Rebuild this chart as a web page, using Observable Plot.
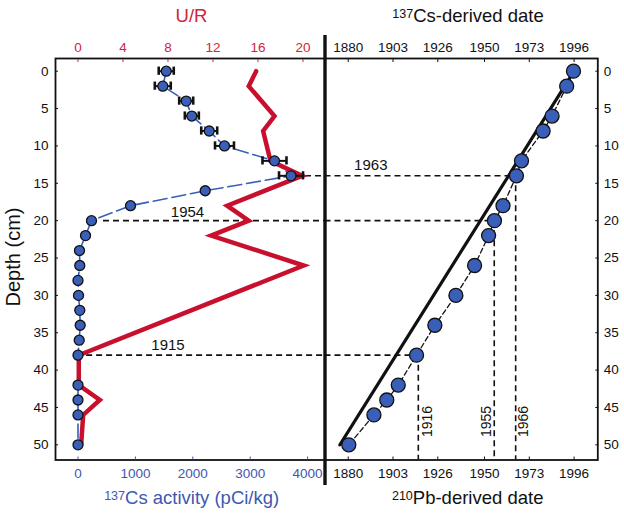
<!DOCTYPE html>
<html><head><meta charset="utf-8">
<script src="https://cdn.jsdelivr.net/npm/d3@7"></script>
<script src="https://cdn.jsdelivr.net/npm/@observablehq/plot@0.6"></script>
<style>
body{margin:0;background:#fff;font-family:"Liberation Sans",Arial,sans-serif;}
#chart{position:relative;width:624px;height:513px;overflow:hidden;background:#fff;}
#chart svg{position:absolute;left:0;top:0;overflow:visible;}
.lbl{position:absolute;white-space:nowrap;font-size:18.5px;line-height:1;transform:translate(-50%,-50%);}
.lbl sup{font-size:12.5px;position:relative;top:-0.3em;vertical-align:baseline;}
</style></head>
<body>
<div id="chart"></div>
<script>
// ---------- data ----------
const depthTicks = [0,5,10,15,20,25,30,35,40,45,50];
const csTicks = [0,1000,2000,3000,4000];
const urTicks = [0,4,8,12,16,20];
const dateTicks = [1880,1903,1926,1950,1973,1996];

// 137Cs activity profile (pCi/kg)
const csDepth    = [0,2,4,6,8,10,12,14,16,18,20,22,24,26,28,30,32,34,36,38,42,44,46,50];
const csActivity = [1537,1477,1885,1983,2286,2552,3423,3711,2216,915,235,131,26,31,0,9,31,38,21,0,0,0,0,0];
const csError    = [131,139,122,122,139,165,209,209,0,0,0,0,0,0,0,0,0,0,0,0,0,0,0,0];

// U/R ratio profile
const urDepth = [0,2,6,8,12,14,18,20,22,26,38,42,44,46,50];
const urRatio = [15.84,15.18,17.47,16.46,17.11,19.93,13.26,15.18,11.84,20.07,0.07,0.07,1.94,0.46,0.28];

// 210Pb-derived dates
const pbDepth = [0,2,6,8,12,14,18,20,22,26,30,34,38,42,44,46,50];
const pbDate  = [1995.7,1992.2,1984.7,1980.1,1969.0,1966.4,1959.5,1955.1,1952.1,1944.9,1935.3,1924.5,1915.1,1905.7,1899.8,1893.2,1880.3];

// 137Cs-derived date line
const csDateDepth = [0,50];
const csDateYear  = [1996,1875.7];

// marker horizons
const horizonDepth  = [14,20,38];
const horizonCsFrom = [3963,444,150];
const horizonPbYear = [1966,1955,1916];
const horizonLeftLabel  = [{t:"1954",cs:1908,d:18.87},{t:"1915",cs:1568,d:36.67}];
const horizonRightLabel = [{t:"1963",yr:1891.6,d:12.58}];
const verticalLabel = [{t:"1916",yr:1920.9},{t:"1955",yr:1951.1},{t:"1966",yr:1970.0}];
const verticalLabelDepth = 46.88;

// ---------- styles ----------
const RED = "#c8102e", RED_TXT = "#d0243c", BLUE = "#3a5fb8", BLUE_TXT = "#4058b0";
const W = 624, H = 513, MT = 58, MB = 53.5;
const yDomain = [-1.7, 52.03];
const csDomain = [-392, 4303];
const urDomain = [-2.0, 21.96];
const yrDomain = [1868.07, 2008.19];
const leftMargins = {marginLeft: 55, marginRight: W - 324.5, marginTop: MT, marginBottom: MB};
const rightMargins = {marginLeft: 324.5, marginRight: W - 597.3, marginTop: MT, marginBottom: MB};
const baseStyle = {fontFamily: "Liberation Sans, Arial, sans-serif", fontSize: "13.5px", background: "transparent", overflow: "visible", color: "#111"};
const fmt = d => String(d);

const csData = csDepth.map((d,i)=>({depth:d, cs:csActivity[i], err:csError[i]}));
const urData = urDepth.map((d,i)=>({depth:d, ur:urRatio[i]}));
const pbData = pbDepth.map((d,i)=>({depth:d, yr:pbDate[i]}));
const csLine = csDateDepth.map((d,i)=>({depth:d, yr:csDateYear[i]}));
const horizons = horizonDepth.map((d,i)=>({depth:d, from:horizonCsFrom[i], to:csDomain[1], yr:horizonPbYear[i]}));

const chart = document.getElementById("chart");
const yOpt = {domain: yDomain, reverse: true, axis: null};
const dash = "6,4";

// Layer 1: left panel base
chart.append(Plot.plot({
  width: W, height: H, ...leftMargins, style: baseStyle,
  x: {domain: csDomain, axis: null}, y: yOpt,
  marks: [
    Plot.frame({stroke: "#111", strokeWidth: 1.8}),
    Plot.axisY({anchor: "left", ticks: depthTicks, tickFormat: fmt, tickSize: -3, tickPadding: 10, label: null, fontSize: 13.5}),
    Plot.axisX({anchor: "bottom", ticks: csTicks, tickFormat: fmt, tickSize: -3, tickPadding: 11, label: null, color: BLUE_TXT, fontSize: 13.5}),
    Plot.ruleY(horizons, {y: "depth", x1: "from", x2: "to", stroke: "#111", strokeWidth: 1.6, strokeDasharray: dash}),
    Plot.line(csData, {x: "cs", y: "depth", stroke: BLUE, strokeWidth: 1.6, strokeDasharray: "14,5"})
  ]
}));

// Layer 2: U/R top axis and red line
chart.append(Plot.plot({
  width: W, height: H, ...leftMargins, style: baseStyle,
  x: {domain: urDomain, axis: null}, y: yOpt,
  marks: [
    Plot.axisX({anchor: "top", ticks: urTicks, tickFormat: fmt, tickSize: -3, tickPadding: 10, label: null, color: RED_TXT, fontSize: 13.5}),
    Plot.line(urData, {x: "ur", y: "depth", stroke: RED, strokeWidth: 4.5, strokeLinejoin: "miter", strokeMiterlimit: 10})
  ]
}));

// Layer 3: Cs error bars, points, horizon labels
const withErr = csData.filter(d => d.err > 0);
chart.append(Plot.plot({
  width: W, height: H, ...leftMargins, style: baseStyle,
  x: {domain: csDomain, axis: null}, y: yOpt,
  marks: [
    Plot.ruleY(withErr, {y: "depth", x1: d => d.cs - d.err, x2: d => d.cs + d.err, stroke: "#111", strokeWidth: 2}),
    Plot.ruleX(withErr, {x: d => d.cs - d.err, y1: d => d.depth - 0.55, y2: d => d.depth + 0.55, stroke: "#111", strokeWidth: 2.6}),
    Plot.ruleX(withErr, {x: d => d.cs + d.err, y1: d => d.depth - 0.55, y2: d => d.depth + 0.55, stroke: "#111", strokeWidth: 2.6}),
    Plot.dot(csData, {x: "cs", y: "depth", r: 5, fill: BLUE, stroke: "#111", strokeWidth: 1.3}),
    Plot.text(horizonLeftLabel, {x: "cs", y: "d", text: "t", fontSize: 15, fill: "#111"})
  ]
}));

// Layer 4: right panel (dates)
const divider = [{x: yrDomain[0], y1: -4.78, y2: 55.45}];
chart.append(Plot.plot({
  width: W, height: H, ...rightMargins, style: baseStyle,
  x: {domain: yrDomain, axis: null}, y: yOpt,
  marks: [
    Plot.frame({stroke: "#111", strokeWidth: 1.8}),
    Plot.axisY({anchor: "right", ticks: depthTicks, tickFormat: fmt, tickSize: -3, tickPadding: 9, label: null, fontSize: 13.5}),
    Plot.axisX({anchor: "top", ticks: dateTicks, tickFormat: fmt, tickSize: -3, tickPadding: 10, label: null, fontSize: 13.5}),
    Plot.axisX({anchor: "bottom", ticks: dateTicks, tickFormat: fmt, tickSize: -3, tickPadding: 11, label: null, fontSize: 13.5}),
    Plot.ruleY(horizons, {y: "depth", x1: yrDomain[0], x2: "yr", stroke: "#111", strokeWidth: 1.6, strokeDasharray: dash}),
    Plot.ruleX(horizons, {x: "yr", y1: "depth", y2: yDomain[1], stroke: "#111", strokeWidth: 1.6, strokeDasharray: dash}),
    Plot.text(verticalLabel, {x: "yr", y: verticalLabelDepth, text: "t", rotate: -90, fontSize: 14, fill: "#111"}),
    Plot.text(horizonRightLabel, {x: "yr", y: "d", text: "t", fontSize: 15, fill: "#111"}),
    Plot.line(csLine, {x: "yr", y: "depth", stroke: "#111", strokeWidth: 3.2}),
    Plot.line(pbData, {x: "yr", y: "depth", stroke: "#111", strokeWidth: 1.3, strokeDasharray: "5,3"}),
    Plot.dot(pbData, {x: "yr", y: "depth", r: 7, fill: BLUE, stroke: "#111", strokeWidth: 1.3}),
    Plot.ruleX(divider, {x: "x", y1: "y1", y2: "y2", stroke: "#111", strokeWidth: 3.4})
  ]
}));

// Titles
function label(html, x, y, color, extra) {
  const el = document.createElement("div");
  el.className = "lbl";
  el.innerHTML = html;
  el.style.left = x + "px"; el.style.top = y + "px"; el.style.color = color;
  if (extra) Object.assign(el.style, extra);
  chart.append(el);
}
label("U/R", 191.5, 16, RED_TXT);
label("<sup>137</sup>Cs-derived date", 468, 15.5, "#111");
label("<sup>137</sup>Cs activity (pCi/kg)", 191.7, 497.5, BLUE_TXT);
label("<sup>210</sup>Pb-derived date", 467.7, 497.5, "#111");
label("Depth (cm)", 12.5, 257, "#111", {transform: "translate(-50%,-50%) rotate(-90deg)", fontSize: "20px"});
</script>
</body></html>
